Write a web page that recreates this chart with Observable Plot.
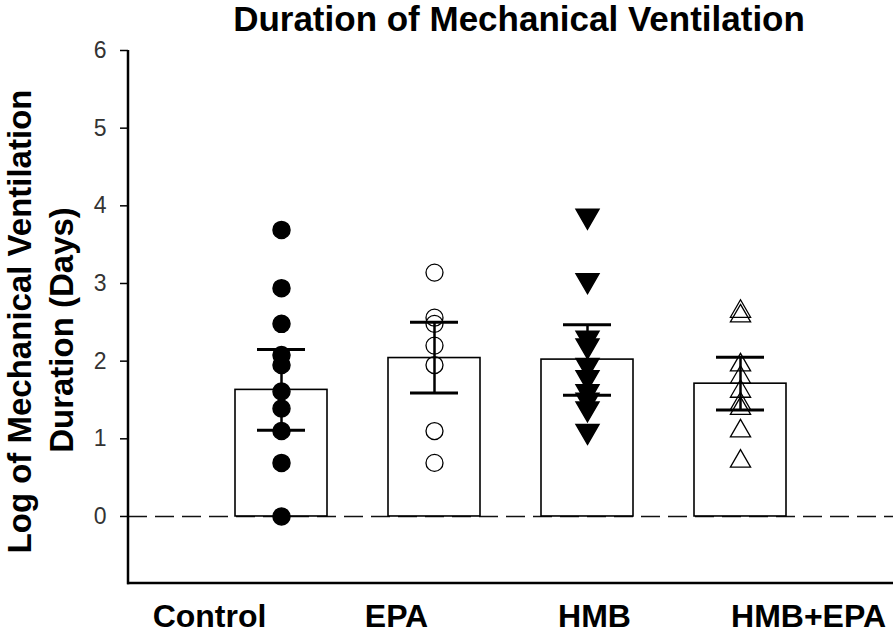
<!DOCTYPE html>
<html>
<head>
<meta charset="utf-8">
<script src="https://cdn.jsdelivr.net/npm/d3@7"></script>
<script src="https://cdn.jsdelivr.net/npm/@observablehq/plot@0.6"></script>
<style>
  html, body { margin: 0; padding: 0; background: #fff; }
  svg { display: block; }
</style>
</head>
<body>
<div id="chart"></div>
<script>
// ---- Data ----
const groups = ["Control", "EPA", "HMB", "HMB+EPA"];
const means = [1.63, 2.04, 2.02, 1.71];
const errLow = [1.11, 1.59, 1.56, 1.37];
const errHigh = [2.15, 2.50, 2.47, 2.05];
const controlPts = [3.69, 2.94, 2.48, 2.08, 1.95, 1.61, 1.39, 1.10, 0.69, 0];
const epaPts = [3.14, 2.56, 2.48, 2.20, 1.95, 1.10, 0.69];
const hmbPts = [3.87, 3.04, 2.30, 2.20, 1.95, 1.79, 1.61, 1.50, 1.39, 1.10];
const hmbEpaPts = [2.64, 2.58, 1.95, 1.79, 1.61, 1.45, 1.39, 1.10, 0.71];
const yTicks = [0, 1, 2, 3, 4, 5, 6];
const title = "Duration of Mechanical Ventilation";
const yLabel1 = "Log of Mechanical Ventilation";
const yLabel2 = "Duration (Days)";

const stats = groups.map((g, i) => ({group: g, mean: means[i], lo: errLow[i], hi: errHigh[i]}));
const pts = (g, arr) => arr.map(v => ({group: g, value: v}));

// downward triangle symbol (flipped d3.symbolTriangle)
const sqrt3 = Math.sqrt(3);
const triangleDown = {
  draw(context, size) {
    const y = -Math.sqrt(size / (sqrt3 * 3));
    context.moveTo(0, -y * 2);
    context.lineTo(-sqrt3 * y, y);
    context.lineTo(sqrt3 * y, y);
    context.closePath();
  }
};

const W = 896, H = 633;
const mL = 128, mR = 3, mT = 50, mB = 50;
const font = "Arial, 'Liberation Sans', sans-serif";

// axis lines (frame left and bottom)
function axisLines(index, scales, values, dims) {
  const g = d3.create("svg:g");
  g.append("line")
    .attr("x1", dims.marginLeft).attr("x2", dims.marginLeft)
    .attr("y1", dims.marginTop).attr("y2", dims.height - dims.marginBottom + 1.2)
    .attr("stroke", "black").attr("stroke-width", 2.5);
  g.append("line")
    .attr("x1", dims.marginLeft - 1).attr("x2", dims.width - dims.marginRight)
    .attr("y1", dims.height - dims.marginBottom).attr("y2", dims.height - dims.marginBottom)
    .attr("stroke", "black").attr("stroke-width", 2.5);
  return g.node();
}

const labelOffsets = {"Control": -72, "EPA": -38, "HMB": 7, "HMB+EPA": 68};

const chart = Plot.plot({
  width: W,
  height: H,
  marginLeft: mL,
  marginRight: mR,
  marginTop: mT,
  marginBottom: mB,
  style: {fontFamily: font, background: "white", overflow: "visible"},
  x: {type: "band", domain: groups, paddingInner: 0.4, paddingOuter: 0.7, axis: null},
  y: {domain: [-0.863, 6], axis: null},
  marks: [
    Plot.axisY({ticks: yTicks, tickSize: 8, tickPadding: 14, fontSize: 23, tickFormat: d3.format("d"), color: "#333", stroke: "black", strokeWidth: 1.5, label: null}),
    Plot.ruleY([0], {stroke: "#111", strokeWidth: 1.3, strokeDasharray: "19,8"}),
    Plot.barY(stats, {x: "group", y1: 0, y2: "mean", fill: "white", stroke: "black", strokeWidth: 1.6}),
    Plot.dot(pts("Control", controlPts), {x: "group", y: "value", r: 8.5, fill: "black", stroke: "black", symbol: "circle"}),
    Plot.dot(pts("EPA", epaPts), {x: "group", y: "value", r: 8.5, fill: "none", stroke: "black", strokeWidth: 1.3, symbol: "circle"}),
    Plot.dot(pts("HMB", hmbPts), {x: "group", y: "value", r: 8.5, fill: "black", stroke: "black", symbol: triangleDown}),
    Plot.dot(pts("HMB+EPA", hmbEpaPts), {x: "group", y: "value", r: 7.5, fill: "none", stroke: "black", strokeWidth: 1.3, symbol: "triangle"}),
    Plot.ruleX(stats, {x: "group", y1: "lo", y2: "hi", stroke: "black", strokeWidth: 2.5}),
    Plot.tickY(stats, {x: "group", y: "hi", stroke: "black", strokeWidth: 3, insetLeft: 22, insetRight: 22}),
    Plot.tickY(stats, {x: "group", y: "lo", stroke: "black", strokeWidth: 3, insetLeft: 22, insetRight: 22}),
    axisLines,
    ...groups.map(g => Plot.text([g], {x: d => d, frameAnchor: "bottom", dy: 33, dx: labelOffsets[g], text: d => d, fontSize: 32, fontWeight: "bold", fill: "black", lineAnchor: "middle", textAnchor: "middle"})),
    Plot.text([title], {frameAnchor: "top", dx: 8, dy: -44, text: d => d, fontSize: 35, fontWeight: "bold", fill: "black", lineAnchor: "top", textAnchor: "middle"}),
    Plot.text([yLabel1], {frameAnchor: "left", dx: -108, dy: 4.5, rotate: -90, text: d => d, fontSize: 33, fontWeight: "bold", fill: "black", lineAnchor: "middle", textAnchor: "middle"}),
    Plot.text([yLabel2], {frameAnchor: "left", dx: -66, dy: 13, rotate: -90, text: d => d, fontSize: 33, fontWeight: "bold", fill: "black", lineAnchor: "middle", textAnchor: "middle"})
  ]
});
document.getElementById("chart").appendChild(chart);
</script>
</body>
</html>
